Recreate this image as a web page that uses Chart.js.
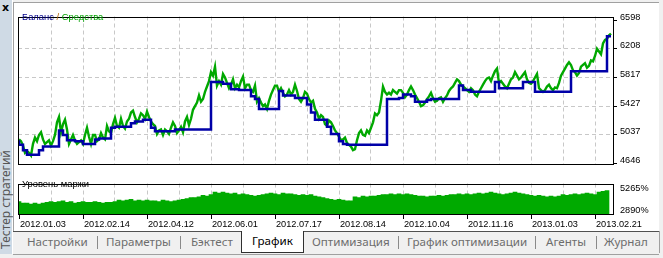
<!DOCTYPE html>
<html>
<head>
<meta charset="utf-8">
<script src="https://cdn.jsdelivr.net/npm/chart.js@4"></script>
<style>
	html, body {
		margin: 0;
		padding: 0;
		background: #f0f0f0;
	}
	#app {
		position: relative;
		width: 663px;
		height: 258px;
		overflow: hidden;
		background: #f0f0f0;
		font-family: "Liberation Sans", Arial, sans-serif;
	}
	#strip {
		position: absolute;
		left: 0;
		top: 0;
		width: 12px;
		height: 254px;
		background: #cfdae5;
		border-right: 1px solid #ffffff;
	}
	#close {
		position: absolute;
		left: 2px;
		top: 1px;
		font: bold 11px "DejaVu Sans", sans-serif;
		color: #000;
	}
	#stripText {
		position: absolute;
		left: -47px;
		top: 190px;
		width: 106px;
		height: 12px;
		transform: rotate(-90deg);
		font: 12px "Noto Sans", sans-serif;
		line-height: 12px;
		color: #555;
		white-space: nowrap;
	}
	#panel {
		position: absolute;
		left: 13px;
		top: 2px;
		width: 646px;
		height: 229px;
		background: #ffffff;
		border-left: 1px solid #a0a0a0;
		border-top: 1px solid #a0a0a0;
		box-sizing: border-box;
	}
	.box {
		position: absolute;
		left: 18px;
		width: 645px;
	}
	#mainBox {
		top: 8px;
		height: 165px;
	}
	#marginBox {
		top: 175px;
		height: 55px;
	}
	.caption {
		position: absolute;
		font-size: 9.4px;
		white-space: nowrap;
		z-index: 2;
	}
	#legend {
		left: 22px;
		top: 11px;
	}
	#legend .bal { color: #00008b; }
	#legend .slash { color: #b06000; }
	#legend .eq { color: #00a000; }
	#marginTitle {
		left: 22px;
		top: 178px;
		color: #000;
	}
	#tabs {
		position: absolute;
		left: 13px;
		top: 231px;
		width: 646px;
		height: 22px;
		border-top: 1px solid #505050;
		border-bottom: 1px solid #a0a0a0;
		background: #f0f0f0;
		font: 11.6px "Noto Sans", sans-serif;
		color: #6d6d6d;
	}
	.tab {
		position: absolute;
		top: 2px;
		white-space: nowrap;
	}
	.sep {
		position: absolute;
		top: 4px;
		width: 1px;
		height: 13px;
		background: #8a8a8a;
	}
	#selected {
		position: absolute;
		left: 228px;
		top: -1px;
		width: 61px;
		height: 21px;
		background: #ffffff;
		border: 1px solid #303030;
		border-top: none;
		color: #000;
		text-align: center;
		line-height: 19px;
	}
	#rightEdge {
		position: absolute;
		left: 659px;
		top: 231px;
		width: 1px;
		height: 22px;
		background: #a0a0a0;
	}
</style>
</head>
<body>
<div id="app">
	<div id="strip">
		<div id="close">x</div>
		<div id="stripText">Тестер стратегий</div>
	</div>
	<div id="panel"></div>
	<div class="box" id="mainBox"><canvas id="mainChart" width="645" height="165"></canvas></div>
	<div class="box" id="marginBox"><canvas id="marginChart" width="645" height="55"></canvas></div>
	<div class="caption" id="legend"><span class="bal">Баланс</span><span class="slash"> / </span><span class="eq">Средства</span></div>
	<div class="caption" id="marginTitle">Уровень маржи</div>
	<div id="tabs">
		<div class="tab" style="left:14px">Настройки</div>
		<div class="sep" style="left:84px"></div>
		<div class="tab" style="left:93px">Параметры</div>
		<div class="sep" style="left:167px"></div>
		<div class="tab" style="left:178px">Бэктест</div>
		<div id="selected">График</div>
		<div class="tab" style="left:299px">Оптимизация</div>
		<div class="sep" style="left:385px"></div>
		<div class="tab" style="left:394px">График оптимизации</div>
		<div class="sep" style="left:522px"></div>
		<div class="tab" style="left:533px">Агенты</div>
		<div class="sep" style="left:583px"></div>
		<div class="tab" style="left:591px">Журнал</div>
	</div>
	<div id="rightEdge"></div>
</div>
<script>
// equity: two readings per bar (x = i / 2); balance and margin: one per bar (x = i)
const equity = [
	4975, 4951, 4890, 4792, 4817, 4792, 4756, 4914, 5000, 4951,
	5036, 5073, 4975, 4914, 4939, 4963, 4890, 4951, 5036, 5207,
	5280, 5073, 5183, 5244, 5110, 4914, 4975, 5036, 4963, 4914,
	4939, 4963, 4914, 5036, 5134, 5012, 4914, 5036, 5036, 4951,
	4975, 5061, 5000, 4975, 5158, 5085, 5061, 5183, 5268, 5158,
	5134, 5256, 5158, 5122, 5219, 5256, 5341, 5366, 5280, 5207,
	5256, 5329, 5305, 5256, 5354, 5280, 5219, 5183, 5158, 5049,
	5097, 5110, 5036, 5110, 5085, 5049, 5134, 5207, 5158, 5061,
	5097, 5146, 5073, 5219, 5280, 5171, 5256, 5378, 5427, 5476,
	5573, 5488, 5524, 5622, 5695, 5768, 5890, 5842, 5964, 5707,
	5768, 5720, 5866, 5817, 5744, 5671, 5720, 5793, 5671, 5720,
	5683, 5768, 5829, 5671, 5720, 5720, 5646, 5622, 5707, 5488,
	5537, 5476, 5427, 5451, 5390, 5500, 5585, 5646, 5707, 5707,
	5622, 5671, 5610, 5561, 5585, 5646, 5585, 5622, 5720, 5634,
	5524, 5488, 5537, 5622, 5598, 5524, 5476, 5500, 5390, 5341,
	5256, 5305, 5280, 5183, 5158, 5232, 5207, 5158, 5097, 5061,
	5012, 4963, 4975, 5000, 4927, 4902, 4878, 4829, 4841, 4963,
	5061, 5097, 5036, 5024, 5097, 5061, 5134, 5207, 5329, 5305,
	5341, 5500, 5695, 5622, 5585, 5610, 5585, 5646, 5622, 5598,
	5646, 5646, 5610, 5549, 5585, 5646, 5695, 5646, 5585, 5537,
	5488, 5427, 5439, 5476, 5524, 5561, 5610, 5537, 5488, 5500,
	5537, 5549, 5488, 5537, 5573, 5634, 5671, 5695, 5744, 5793,
	5768, 5720, 5695, 5671, 5646, 5622, 5671, 5646, 5585, 5561,
	5622, 5671, 5720, 5768, 5805, 5817, 5768, 5842, 5903, 5939,
	5744, 5768, 5732, 5695, 5671, 5732, 5793, 5817, 5890, 5842,
	5793, 5817, 5854, 5890, 5793, 5744, 5732, 5768, 5817, 5866,
	5671, 5646, 5622, 5646, 5695, 5720, 5671, 5646, 5683, 5671,
	5744, 5842, 5890, 5939, 5988, 6025, 5988, 5915, 5890, 5842,
	5878, 5964, 5988, 6012, 5951, 5976, 6049, 6037, 6110, 6208,
	6171, 6134, 6281, 6330, 6342, 6391, 6415
];
const balance = [
	4963, 4902, 4829, 4768, 4768, 4768, 4829, 4878, 4878, 4878,
	4878, 5097, 5036, 4963, 4963, 4951, 4951, 4914, 4914, 4914,
	4975, 4988, 4988, 4988, 5134, 5146, 5146, 5146, 5146, 5195,
	5219, 5219, 5244, 5244, 5134, 5085, 5085, 5085, 5085, 5085,
	5110, 5110, 5110, 5110, 5110, 5110, 5110, 5110, 5110, 5756,
	5756, 5756, 5732, 5732, 5659, 5659, 5646, 5646, 5646, 5561,
	5524, 5390, 5390, 5390, 5390, 5390, 5634, 5573, 5573, 5573,
	5537, 5537, 5537, 5451, 5341, 5244, 5244, 5244, 5146, 5049,
	5049, 4951, 4914, 4902, 4902, 4902, 4902, 4902, 4902, 4902,
	4902, 4902, 4902, 5524, 5524, 5524, 5537, 5585, 5585, 5561,
	5488, 5488, 5488, 5512, 5524, 5524, 5524, 5524, 5524, 5524,
	5524, 5707, 5646, 5646, 5622, 5622, 5622, 5622, 5622, 5622,
	5756, 5671, 5671, 5671, 5671, 5671, 5671, 5756, 5756, 5756,
	5622, 5622, 5622, 5622, 5622, 5622, 5622, 5622, 5622, 5903,
	5903, 5903, 5903, 5903, 5903, 5903, 5903, 5903, 6378
];
const marginLevel = [
	4181, 4015, 4015, 3931, 4015, 3931, 4015, 4098, 4181, 4098,
	4181, 4264, 4098, 4181, 4015, 4098, 4181, 4098, 4098, 4181,
	4098, 4015, 4098, 4098, 4181, 4348, 4264, 4348, 4431, 4264,
	4348, 4264, 4348, 4264, 4264, 4181, 4348, 4264, 4181, 4264,
	4348, 4431, 4514, 4598, 4598, 4681, 4848, 4764, 4931, 5181,
	5097, 5181, 5097, 5014, 5097, 4931, 5014, 4931, 4848, 4764,
	4848, 4931, 5014, 5097, 5014, 4931, 5097, 5014, 5014, 4931,
	4848, 4931, 4848, 4931, 4764, 4681, 4598, 4514, 4431, 4348,
	4431, 4348, 4264, 4264, 4681, 4598, 4764, 4681, 4764, 4764,
	4848, 4931, 4931, 5014, 4931, 5014, 4931, 5014, 4931, 4848,
	4764, 4764, 4681, 4764, 4764, 4848, 4764, 4848, 4931, 4931,
	5014, 4931, 5014, 4931, 5014, 5097, 5014, 5097, 5181, 5097,
	5014, 4931, 5014, 5097, 5181, 5097, 5014, 4931, 4848, 4764,
	4848, 4764, 4681, 4764, 4681, 4764, 4931, 4848, 4931, 5014,
	4931, 5014, 5097, 5014, 4931, 5181, 5264, 5347
];
const dateLabels = [
	"2012.01.03", "2012.02.14", "2012.04.12", "2012.06.01", "2012.07.17",
	"2012.08.14", "2012.10.04", "2012.11.16", "2013.01.03", "2013.02.21"
];
const priceTicks = [4646, 5037, 5427, 5817, 6208, 6598];
const marginTicks = [2890, 5265];

const gridStep = 8;
const gridIndexes = [];
for (let i = 0; i <= 144; i += gridStep) {
	gridIndexes.push(i);
}

Chart.defaults.font.family = "'Liberation Sans', Arial, sans-serif";
Chart.defaults.font.size = 9.2;
Chart.defaults.color = "#000";

const gridColor = "#c8c8c8";
const frame = {
	id: "frame",
	afterDraw(chart) {
		const ctx = chart.ctx;
		const area = chart.chartArea;
		ctx.save();
		ctx.strokeStyle = "#000";
		ctx.lineWidth = 1;
		ctx.strokeRect(Math.round(area.left) + 0.5, Math.round(area.top) + 0.5,
			Math.round(area.width) - 1, Math.round(area.height) - 1);
		ctx.restore();
	}
};

const toPoints = (values, step) => values.map((v, i) => ({ x: i * step, y: v }));

const indexScale = {
	type: "linear",
	min: -0.25,
	max: 148.75,
	offset: false,
	afterBuildTicks: scale => {
		scale.ticks = gridIndexes.map(v => ({ value: v }));
	}
};

// dataset 0 is painted last, so the balance sits on top of the equity
new Chart(document.getElementById("mainChart"), {
	type: "line",
	data: {
		datasets: [
			{
				label: "Баланс",
				data: toPoints(balance, 1),
				borderColor: "#0000a8",
				borderWidth: 2.5,
				pointRadius: 0,
				stepped: "after"
			},
			{
				label: "Средства",
				data: toPoints(equity, 0.5),
				borderColor: "#00a800",
				borderWidth: 2.4,
				pointRadius: 0
			}
		]
	},
	options: {
		responsive: false,
		animation: false,
		events: [],
		layout: { padding: 0 },
		plugins: { legend: { display: false }, tooltip: { enabled: false } },
		scales: {
			x: {
				...indexScale,
				ticks: { display: false },
				grid: {
					drawTicks: false,
					color: ctx => ctx.tick && ctx.tick.value === 0 ? "transparent" : gridColor
				},
				border: { display: false, dash: [4, 3] },
				afterFit: scale => { scale.height = 0; }
			},
			y: {
				position: "right",
				min: 4634,
				max: 6647,
				afterBuildTicks: scale => {
					scale.ticks = priceTicks.map(v => ({ value: v }));
				},
				ticks: {
					padding: 3,
					labelOffset: -3,
					callback: v => String(v)
				},
				grid: {
					tickLength: 3,
					tickColor: "#000",
					color: ctx => {
						const v = ctx.tick ? ctx.tick.value : 0;
						return v === 4646 || v === 6598 ? "transparent" : gridColor;
					}
				},
				border: { display: false, dash: [4, 3] },
				afterFit: scale => { scale.width = 49; }
			}
		}
	},
	plugins: [frame]
});

new Chart(document.getElementById("marginChart"), {
	type: "bar",
	data: {
		datasets: [
			{
				label: "Уровень маржи",
				data: toPoints(marginLevel, 1),
				backgroundColor: "#00aa00",
				barPercentage: 1,
				categoryPercentage: 1
			}
		]
	},
	options: {
		responsive: false,
		animation: false,
		events: [],
		layout: { padding: 0 },
		plugins: { legend: { display: false }, tooltip: { enabled: false } },
		scales: {
			x: {
				...indexScale,
				ticks: {
					autoSkip: false,
					maxRotation: 0,
					align: "start",
					labelOffset: 1,
					padding: 0,
					callback: (v, i) => i % 2 === 0 ? dateLabels[i / 2] : ""
				},
				grid: {
					offset: false,
					tickLength: 4,
					tickColor: ctx => ctx.index % 2 === 0 ? "#000" : "transparent",
					color: ctx => ctx.tick && ctx.tick.value === 0 ? "transparent" : gridColor
				},
				border: { display: false, dash: [4, 3] },
				afterFit: scale => { scale.height = 15; }
			},
			y: {
				position: "right",
				min: 2765,
				max: 6098,
				afterBuildTicks: scale => {
					scale.ticks = marginTicks.map(v => ({ value: v }));
				},
				ticks: {
					padding: 3,
					labelOffset: -3,
					callback: v => v + "%"
				},
				grid: {
					tickLength: 3,
					tickColor: "transparent",
					color: "transparent"
				},
				border: { display: false },
				afterFit: scale => { scale.width = 49; }
			}
		}
	},
	plugins: [frame]
});
</script>
</body>
</html>
